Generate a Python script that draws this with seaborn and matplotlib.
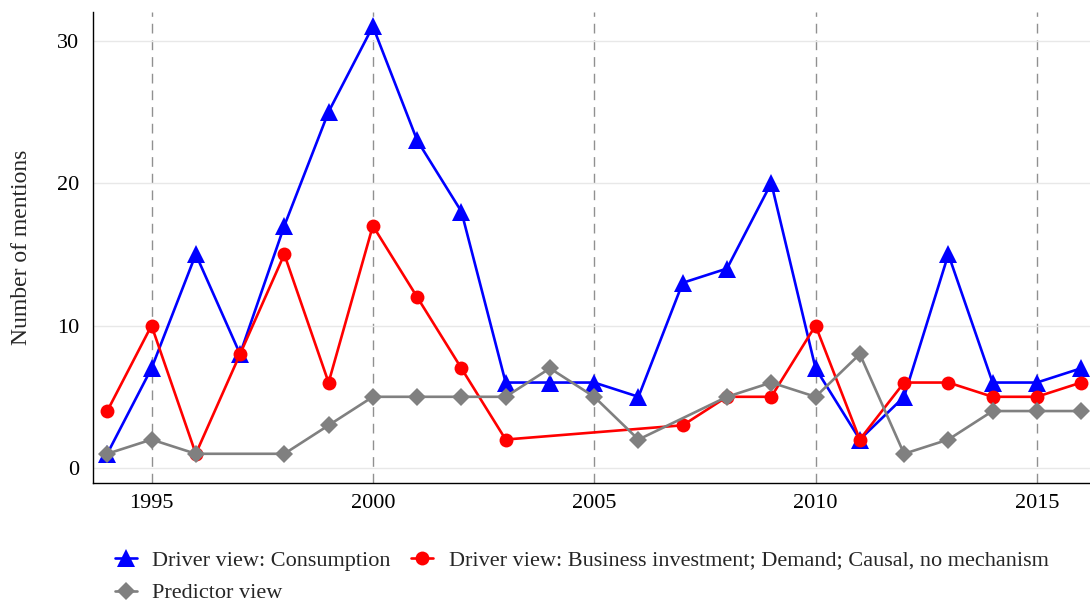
import numpy as np
import pandas as pd
import seaborn as sns
import matplotlib.pyplot as plt

years = list(range(1994, 2017))

consumption = [1, 7, 15, 8, 17, 25, 31, 23, 18, 6, 6, 6, 5, 13, 14, 20, 7, 2, 5, 15, 6, 6, 7]
business = [4, 10, 1, 8, 15, 6, 17, 12, 7, 2, np.nan, np.nan, np.nan, 3, 5, 5, 10, 2, 6, 6, 5, 5, 6]
predictor = [1, 2, 1, np.nan, 1, 3, 5, 5, 5, 5, 7, 5, 2, np.nan, 5, 6, 5, 8, 1, 2, 4, 4, 4]

labels = ["Driver view: Consumption",
          "Driver view: Business investment; Demand; Causal, no mechanism",
          "Predictor view"]

df = pd.DataFrame({
    "year": years * 3,
    "mentions": consumption + business + predictor,
    "series": [labels[0]] * 23 + [labels[1]] * 23 + [labels[2]] * 23,
}).dropna()

sns.set_style("white")
plt.rcParams["font.family"] = ["Liberation Serif", "DejaVu Serif"]

fig = plt.figure(figsize=(10.9, 6.03), dpi=100)
ax = fig.add_axes([0.085, 0.199, 0.915, 0.781])

palette = {labels[0]: "#0000ff", labels[1]: "#ff0000", labels[2]: "#808080"}
markers = {labels[0]: "^", labels[1]: "o", labels[2]: "D"}
sizes = {labels[0]: 12.5, labels[1]: 10, labels[2]: 9.5}

for lab in labels:
    sub = df[df["series"] == lab]
    sns.lineplot(data=sub, x="year", y="mentions", color=palette[lab], marker=markers[lab],
                 markersize=sizes[lab], markeredgewidth=0, linewidth=1.9, label=lab, ax=ax)

for yr in [1995, 2000, 2005, 2010, 2015]:
    ax.axvline(yr, color="#909090", linestyle=(0, (7, 5)), linewidth=1, zorder=0)
for v in [0, 10, 20, 30]:
    ax.axhline(v, color="#e8e8e8", linewidth=1, zorder=0)

ax.set_xlim(1993.67, 2016.2)
ax.set_ylim(-1.05, 32)
ax.set_xticks([1995, 2000, 2005, 2010, 2015])
ax.set_yticks([0, 10, 20, 30])
ax.tick_params(axis="both", direction="out", length=6, width=1, labelsize=16, colors="black")
ax.tick_params(axis="x", pad=2)
ax.set_xlabel("")
ax.set_ylabel("Number of mentions", fontsize=17, labelpad=18)
for s in ["top", "right"]:
    ax.spines[s].set_visible(False)
for s in ["left", "bottom"]:
    ax.spines[s].set_color("black")
    ax.spines[s].set_linewidth(1)

h, l = ax.get_legend_handles_labels()
order = [0, 2, 1]
ax.legend([h[i] for i in order], [l[i] for i in order], loc="upper left",
          bbox_to_anchor=(0.002, -0.1), ncol=2, frameon=False, fontsize=16,
          handlelength=1.0, columnspacing=0.9, handletextpad=0.7, labelspacing=0.55)

fig.savefig("out.png", dpi=100)
